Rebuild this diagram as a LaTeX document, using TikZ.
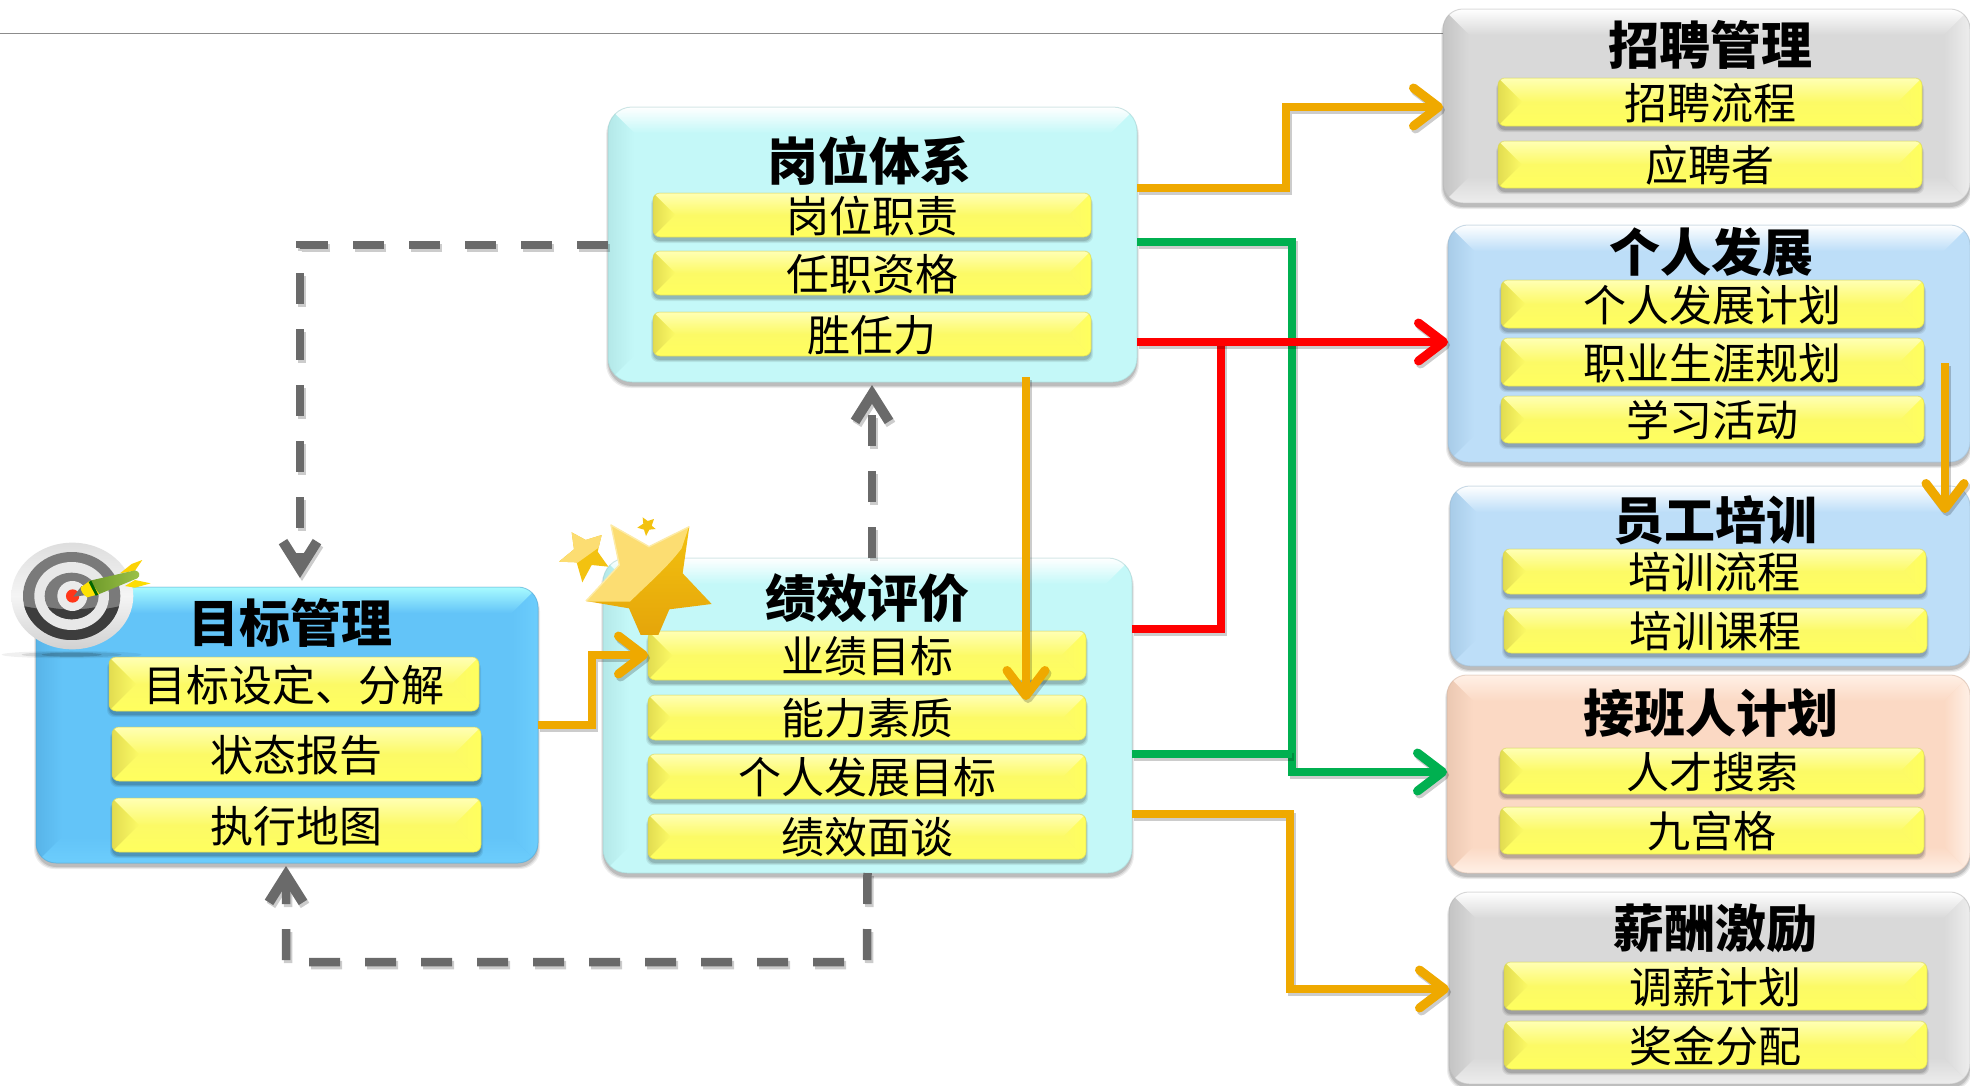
\documentclass[tikz,border=0pt]{standalone}
\usepackage{fontspec}
\usetikzlibrary{arrows.meta,shadings}
\setmainfont{Noto Sans CJK SC}
\definecolor{orangeln}{HTML}{EFA900}
\definecolor{greenln}{HTML}{00B050}
\definecolor{redln}{HTML}{FF0000}
\definecolor{grayln}{HTML}{6A6A6A}
\definecolor{yellowbase}{HTML}{FCFA66}
\definecolor{yellowtop}{HTML}{FFFFB4}
\definecolor{yellowleft}{HTML}{E2DC50}
\definecolor{yellowright}{HTML}{FFFF5E}
\definecolor{goalbase}{HTML}{63C4F8}
\definecolor{goaltop}{HTML}{A8FBFF}
\definecolor{goalleft}{HTML}{58B4E8}
\definecolor{goalright}{HTML}{6CCDFC}
\definecolor{aquabase}{HTML}{C4F8F8}
\definecolor{aqualeft}{HTML}{B4E8E8}
\definecolor{graybase}{HTML}{D9D9D9}
\definecolor{grayleft}{HTML}{C4C4C4}
\definecolor{grayright}{HTML}{EDEDED}
\definecolor{bluebase}{HTML}{BDDEF8}
\definecolor{blueleft}{HTML}{A8CCE8}
\definecolor{peachbase}{HTML}{FBD9C4}
\definecolor{peachtop}{HTML}{FFF0E6}
\definecolor{peachleft}{HTML}{EBC8B2}
\definecolor{starlight}{HTML}{FCDD72}
\definecolor{starpale}{HTML}{FDEBA6}
\definecolor{starmid}{HTML}{F3C210}
\definecolor{stardeep}{HTML}{E5A50A}
\definecolor{dartdark}{HTML}{6E9A2A}
\definecolor{dartlight}{HTML}{9CC24A}
\tikzset{
  holder/.style={inner sep=0pt,outer sep=0pt,align=center,text=black},
  paneltitle/.style={holder,font=\fontsize{51}{53}\selectfont\bfseries},
  subtext/.style={holder,font=\fontsize{43}{45}\selectfont,text height=39.5pt,text depth=5pt},
  lineshadow/.style={preaction={draw=black,draw opacity=.2,line width=8.5pt,transform canvas={xshift=2pt,yshift=-3pt}}},
  flow/.style={line width=8.5pt,-{Straight Barb[round,length=25pt,width=38pt,line width=9pt]},lineshadow},
  flowplain/.style={line width=8.5pt,lineshadow},
  orangeflow/.style={flow,draw=orangeln},
  greenflow/.style={flow,draw=greenln},
  redflow/.style={flow,draw=redln},
  greenplain/.style={flowplain,draw=greenln},
  redplain/.style={flowplain,draw=redln},
  grayflow/.style={line width=8.5pt,draw=grayln,dash pattern=on 31pt off 25pt,
     preaction={draw=black,draw opacity=.2,line width=8.5pt,dash pattern=on 31pt off 25pt,transform canvas={xshift=2pt,yshift=-3pt}},
     -{Straight Barb[length=27pt,width=34pt,line width=10pt]}},
}
% #1 name, #2-#5 x0 y0 x1 y1, #6 bevel, #7 radius, #8 base, #9 top, then {left}{right}{style}{text}
\newcommand{\bevelbox}[9]{%
  \def\bbname{#1}\def\bbxa{#2}\def\bbya{#3}\def\bbxb{#4}\def\bbyb{#5}%
  \def\bbb{#6}\def\bbr{#7}\def\bbbase{#8}\def\bblight{#9}\bevelboxrest}
\newcommand{\bevelboxrest}[4]{%
  \foreach \sp/\op in {3/.07,2/.09,1/.12}{%
    \fill[black,opacity=\op,rounded corners=\bbr pt]
      (\bbxa-\sp+1,\bbya+4) rectangle (\bbxb+\sp-1,\bbyb+3+\sp);}
  \fill[\bbbase,rounded corners=\bbr pt] (\bbxa,\bbya) rectangle (\bbxb,\bbyb);
  \begin{scope}
    \clip[rounded corners=\bbr pt] (\bbxa,\bbya) rectangle (\bbxb,\bbyb);
    \shade[top color=\bblight,bottom color=\bbbase]
      (\bbxa,\bbya)--(\bbxb,\bbya)--(\bbxb-\bbb,\bbya+\bbb)--(\bbxa+\bbb,\bbya+\bbb)--cycle;
    \shade[left color=#1,right color=\bbbase]
      (\bbxa,\bbya)--(\bbxa+\bbb,\bbya+\bbb)--(\bbxa+\bbb,\bbyb-\bbb)--(\bbxa,\bbyb)--cycle;
    \shade[left color=\bbbase,right color=#2]
      (\bbxb,\bbya)--(\bbxb-\bbb,\bbya+\bbb)--(\bbxb-\bbb,\bbyb-\bbb)--(\bbxb,\bbyb)--cycle;
    \shade[top color=\bbbase,bottom color=#2]
      (\bbxa,\bbyb)--(\bbxb,\bbyb)--(\bbxb-\bbb,\bbyb-\bbb)--(\bbxa+\bbb,\bbyb-\bbb)--cycle;
  \end{scope}
  \draw[\bbbase!82!black,draw opacity=.45,line width=1pt,rounded corners=\bbr pt]
    (\bbxa,\bbya) rectangle (\bbxb,\bbyb);
  \pgfmathsetmacro{\bbw}{\bbxb-\bbxa}\pgfmathsetmacro{\bbh}{\bbyb-\bbya}
  \node[#3,minimum width=\bbw pt,minimum height=\bbh pt] (\bbname)
    at ({(\bbxa+\bbxb)/2},{(\bbya+\bbyb)/2}) {#4};
}
\newcommand{\subbox}[6]{%
  \pgfmathsetmacro{\subb}{(#5-#3)/2}%
  \bevelbox{#1}{#2}{#3}{#4}{#5}{\subb}{7}{yellowbase}{yellowtop}{yellowleft}{yellowright}{subtext}{#6}}
\begin{document}
\begin{tikzpicture}[x=1pt,y=-1pt]
\useasboundingbox (0,0) rectangle (1970,1085);
\fill[white] (0,0) rectangle (1970,1085);
\coordinate (ruleL) at (0,33);
\coordinate (ruleR) at (1444,33);
\draw[line width=1pt,draw=black!45] (ruleL) -- (ruleR);

% ---------- panels
\bevelbox{goal}{36}{587}{538}{863}{26}{20}{goalbase}{goaltop}{goalleft}{goalright}{holder}{}
\bevelbox{perf}{603}{558}{1132}{873}{26}{24}{aquabase}{white}{aqualeft}{aquabase}{holder}{}
\bevelbox{job}{608}{107}{1137}{382}{26}{24}{aquabase}{white}{aqualeft}{aquabase}{holder}{}
\bevelbox{recruit}{1443}{9}{1970}{203}{26}{20}{graybase}{white}{grayleft}{grayright}{holder}{}
\bevelbox{dev}{1448}{225}{1970}{462}{26}{20}{bluebase}{white}{blueleft}{bluebase}{holder}{}
\bevelbox{train}{1450}{486}{1970}{666}{26}{20}{bluebase}{white}{blueleft}{bluebase}{holder}{}
\bevelbox{succ}{1447}{675}{1970}{873}{26}{20}{peachbase}{peachtop}{peachleft}{peachtop}{holder}{}
\bevelbox{pay}{1449}{892}{1970}{1084}{26}{20}{graybase}{white}{grayleft}{grayright}{holder}{}

% ---------- titles
\node[paneltitle] (goalT) at (290,623) {目标管理};
\node[paneltitle] (perfT) at (867,598) {绩效评价};
\node[paneltitle] (jobT) at (869,161) {岗位体系};
\node[paneltitle] (recruitT) at (1710,45) {招聘管理};
\node[paneltitle] (devT) at (1711,252) {个人发展};
\node[paneltitle] (trainT) at (1715,520) {员工培训};
\node[paneltitle] (succT) at (1711,713) {接班人计划};
\node[paneltitle] (payT) at (1715,928) {薪酬激励};

% ---------- inner bars
\subbox{g1}{109}{657}{479}{711}{目标设定、分解}
\subbox{g2}{112}{727}{481}{781}{状态报告}
\subbox{g3}{112}{798}{481}{852}{执行地图}
\subbox{p1}{648}{631}{1086}{680}{业绩目标}
\subbox{p2}{648}{695}{1086}{740}{能力素质}
\subbox{p3}{648}{754}{1086}{799}{个人发展目标}
\subbox{p4}{648}{814}{1086}{859}{绩效面谈}
\subbox{j1}{653}{193}{1091}{237}{岗位职责}
\subbox{j2}{653}{251}{1091}{295}{任职资格}
\subbox{j3}{653}{312}{1091}{356}{胜任力}
\subbox{r1}{1498}{78}{1922}{126}{招聘流程}
\subbox{r2}{1498}{141}{1922}{188}{应聘者}
\subbox{d1}{1501}{280}{1924}{328}{个人发展计划}
\subbox{d2}{1501}{338}{1924}{386}{职业生涯规划}
\subbox{d3}{1501}{396}{1924}{443}{学习活动}
\subbox{t1}{1503}{549}{1926}{594}{培训流程}
\subbox{t2}{1504}{608}{1927}{653}{培训课程}
\subbox{s1}{1500}{748}{1924}{794}{人才搜索}
\subbox{s2}{1500}{807}{1924}{854}{九宫格}
\subbox{y1}{1504}{962}{1927}{1010}{调薪计划}
\subbox{y2}{1504}{1021}{1927}{1069}{奖金分配}

% ---------- connectors
\coordinate (goalIn) at (300,578);
\coordinate (jobIn) at (872,385);
\coordinate (goalBot) at (286,866);
\coordinate (devOut) at (1945,363);
\coordinate (trainIn) at (1945,513);
\coordinate (jobOut) at (1026,377);
\coordinate (perfIn) at (1026,700);

\draw[grayflow] (job.west |- 0,245) -- (300,245) -- (goalIn);
\draw[grayflow] (perf.north -| 872,0) -- (jobIn);
\draw[grayflow] (perf.south) -- (867,962) -- (286,962) -- (goalBot);

\draw[orangeflow] (goal.east |- 0,725) -- (592,725) -- (592,655) -- (p1.west |- 0,655);
\draw[orangeflow] (jobOut) -- (perfIn);
\draw[orangeflow] (job.east |- 0,188) -- (1286,188) -- (1286,107) -- (recruit.west |- 0,107);
\draw[orangeflow] (perf.east |- 0,814) -- (1290,814) -- (1290,989) -- (pay.west |- 0,989);
\draw[orangeflow] (devOut) -- (trainIn);

\draw[greenflow] (job.east |- 0,242) -- (1292,242) -- (1292,772) -- (succ.west |- 0,772);
\draw[greenplain] (perf.east |- 0,754) -- (1292,754);

\draw[redplain] (perf.east |- 0,629) -- (1221,629) -- (1221,342);
\draw[redflow] (job.east |- 0,342) -- (dev.west |- 0,342);

% ---------- target picture (drawn in crop coordinates: 3 units = 1 px)
\begin{scope}[shift={(0,500)},x=.3333pt,y=-.3333pt]
  \foreach \rx/\ry/\op in {210/11/.06,150/8/.10,90/6/.16}{\fill[black,opacity=\op] (215,464) ellipse (\rx pt/3 and \ry pt/3);}
  \shade[top color=black!13,bottom color=black!18,middle color=black!4] (217,288) ellipse ({183} and {160});
  \fill[black!52] (215,288) ellipse ({146} and {132});
  \begin{scope}
    \clip (215,288) ellipse ({146} and {132});
    \fill[black!76] (60,316) .. controls (170,340) and (270,340) .. (370,316) -- (370,430) -- (60,430) -- cycle;
  \end{scope}
  \fill[black!9] (215,288) ellipse ({112} and {102});
  \fill[black!52] (215,288) ellipse ({81} and {70});
  \begin{scope}
    \clip (215,288) ellipse ({81} and {70});
    \fill[black!76] (130,318) .. controls (180,332) and (250,332) .. (300,318) -- (300,365) -- (130,365) -- cycle;
  \end{scope}
  \fill[black!8] (217,288) ellipse ({45} and {45});
  \fill[red!75!orange!90!white] (218,288) ellipse ({20} and {20});
  \fill[black!55] (220,290) -- (245,258) -- (262,285) -- cycle;
  \fill[yellow!70!orange] (360,220) -- (395,192) -- (427,180) -- (405,212) -- cycle;
  \fill[yellow!80!orange] (375,258) -- (405,240) -- (452,250) -- (405,263) -- cycle;
  \shade[left color=dartdark,right color=dartlight]
    (270,242) -- (405,211) .. controls (420,214) and (422,228) .. (412,235) -- (298,282) -- cycle;
  \fill[yellow!85!orange] (242,262) -- (270,242) -- (298,282) -- (262,292) .. controls (250,285) and (243,275) .. (242,262) -- cycle;
  \fill[green!40!black] (266,246) -- (274,242) -- (295,284) -- (287,287) -- cycle;
\end{scope}

% ---------- stars (drawn in crop coordinates: 3 units = 1 px)
\begin{scope}[shift={(550,505)},x=.3333pt,y=-.3333pt]
  \begin{scope}
    \clip (65,82) -- (107,105) -- (155,90) -- (143,140) -- (175,185) -- (125,180) -- (97,232) -- (80,172) -- (27,170) -- (72,133) -- cycle;
    \fill[starmid] (20,75) rectangle (180,235);
    \fill[starlight] (20,75) -- (160,75) -- (150,125) -- (80,175) -- (20,175) -- cycle;
  \end{scope}
  \fill[starmid] (278,37) -- (293,48) -- (312,42) -- (305,62) -- (317,72) -- (298,74) -- (288,93) -- (282,74) -- (262,68) -- (280,56) -- cycle;
  \begin{scope}
    \clip (183,60) -- (297,125) -- (418,65) -- (398,205) -- (485,297) -- (358,313) -- (325,390) -- (272,390) -- (237,310) -- (108,288) -- (208,180) -- cycle;
    \shade[top color=starmid,bottom color=stardeep] (100,55) rectangle (490,392);
    \fill[starlight] (100,55) -- (420,55) -- (395,130) .. controls (350,190) and (290,240) .. (240,290) -- (100,290) -- cycle;
  \end{scope}
  \draw[starpale,line width=1.4pt,line join=round] (108,288) -- (208,180) -- (183,60) -- (297,125) -- (418,65);
\end{scope}

\end{tikzpicture}
\end{document}
